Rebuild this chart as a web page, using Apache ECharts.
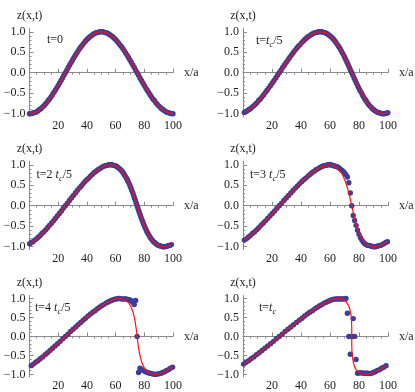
<!DOCTYPE html>
<html><head><meta charset="utf-8">
<script src="https://cdn.jsdelivr.net/npm/echarts@6/dist/echarts.min.js"></script>
<style>html,body{margin:0;padding:0;background:#fff}#c{width:415px;height:392px}</style>
</head><body><div id="c"></div>
<script>
// lattice displacement values z at sites n = 0..100 (shared by every panel, read from t=0 curve)
const latticeZ = [-1,-1,-0.99,-0.98,-0.97,-0.95,-0.93,-0.9,-0.88,-0.84,-0.81,-0.77,-0.73,-0.68,-0.64,-0.59,-0.54,-0.48,-0.43,-0.37,-0.31,-0.25,-0.19,-0.13,-0.06,0,
0.06,0.13,0.19,0.25,0.31,0.37,0.43,0.48,0.54,0.59,0.64,0.68,0.73,0.77,0.81,0.84,0.88,0.9,0.93,0.95,0.97,0.98,0.99,1,1,
1,0.99,0.98,0.97,0.95,0.93,0.9,0.88,0.84,0.81,0.77,0.73,0.68,0.64,0.59,0.54,0.48,0.43,0.37,0.31,0.25,0.19,0.13,0.06,0,
-0.06,-0.13,-0.19,-0.25,-0.31,-0.37,-0.43,-0.48,-0.54,-0.59,-0.64,-0.68,-0.73,-0.77,-0.81,-0.84,-0.88,-0.9,-0.93,-0.95,-0.97,-0.98,-0.99,-1,-1];

// x positions of those values in each panel
const xT0 = [0,1,2,3,4,5,6,7,8,9,10,11,12,13,14,15,16,17,18,19,20,21,22,23,24,25,26,27,28,29,30,31,32,33,34,35,36,37,38,39,40,41,42,43,44,45,46,47,48,49,50,51,52,53,54,55,56,57,58,59,60,61,62,63,64,65,66,67,68,69,70,71,72,73,74,75,76,77,78,79,80,81,82,83,84,85,86,87,88,89,90,91,92,93,94,95,96,97,98,99,100];
const xT1 = [96.8,97.8,98.8,99.9,0.9,2.0,3.0,4.1,5.2,6.3,7.4,8.5,9.7,10.8,12.0,13.1,14.3,15.5,16.6,17.8,19.0,20.2,21.4,22.6,23.8,25.0,
26.2,27.4,28.6,29.8,31.0,32.2,33.4,34.5,35.7,36.9,38.0,39.2,40.3,41.5,42.6,43.7,44.8,45.9,47.0,48.0,49.1,50.1,51.2,52.2,53.2,
54.2,55.2,56.1,57.1,58.0,59.0,59.9,60.8,61.7,62.6,63.5,64.3,65.2,66.0,66.9,67.7,68.5,69.4,70.2,71.0,71.8,72.6,73.4,74.2,75.0,
75.8,76.6,77.4,78.2,79.0,79.8,80.6,81.5,82.3,83.1,84.0,84.8,85.7,86.5,87.4,88.3,89.2,90.1,91.0,92.0,92.9,93.9,94.8,95.8,96.8];
const xT2 = [93.6,94.6,95.7,96.7,97.8,98.9,0.1,1.2,2.4,3.6,4.9,6.1,7.4,8.6,9.9,11.3,12.6,13.9,15.3,16.7,18.0,19.4,20.8,22.2,23.6,25.0,
26.4,27.8,29.2,30.6,32.0,33.3,34.7,36.1,37.4,38.7,40.1,41.4,42.6,43.9,45.2,46.4,47.6,48.8,49.9,51.1,52.2,53.3,54.3,55.4,56.4,
57.4,58.3,59.3,60.2,61.1,61.9,62.8,63.6,64.4,65.2,65.9,66.6,67.4,68.1,68.7,69.4,70.1,70.7,71.3,72.0,72.6,73.2,73.8,74.4,75.0,
75.6,76.2,76.8,77.4,78.0,78.7,79.3,79.9,80.6,81.3,81.9,82.6,83.4,84.1,84.8,85.6,86.4,87.2,88.1,88.9,89.8,90.7,91.7,92.6,93.6];
const xT3 = [90.5,91.5,92.5,93.6,94.8,95.9,97.1,98.4,99.6,0.9,2.3,3.6,5.0,6.5,7.9,9.4,10.9,12.4,13.9,15.5,17.0,18.6,20.2,21.8,23.4,25.0,
26.6,28.2,29.8,31.4,33.0,34.5,36.1,37.6,39.1,40.6,42.1,43.5,45.0,46.4,47.7,49.1,50.4,51.6,52.9,54.1,55.2,56.4,57.5,58.5,59.5,
60.5,61.5,62.4,63.2,64.1,64.9,65.6,66.4,67.1,67.7,68.4,69.0,69.5,70.1,70.6,71.1,71.6,72.1,72.5,73.0,73.4,73.8,74.2,74.6,75.0,
75.4,75.8,76.2,76.6,77.0,77.5,77.9,78.4,78.9,79.4,79.9,80.5,81.0,81.6,82.3,82.9,83.6,84.4,85.1,85.9,86.8,87.6,88.5,89.5,90.5];
const xT4 = [87.3,88.3,89.4,90.5,91.7,92.9,94.2,95.5,96.8,98.2,99.7,1.2,2.7,4.3,5.9,7.5,9.2,10.9,12.6,14.3,16.1,17.8,19.6,21.4,23.2,25.0,
26.8,28.6,30.4,32.2,33.9,35.7,37.4,39.1,40.8,42.5,44.1,45.7,47.3,48.8,50.3,51.8,53.2,54.5,55.8,57.1,58.3,59.5,60.6,61.7,62.7,
63.7,64.6,65.5,66.3,67.1,67.8,68.5,69.2,69.8,70.3,70.8,71.3,71.7,72.1,72.5,72.8,73.1,73.4,73.7,73.9,74.2,74.4,74.6,74.8,75.0,
75.2,75.4,75.6,75.8,76.1,76.3,76.6,76.9,77.2,77.5,77.9,78.3,78.7,79.2,79.7,80.2,80.8,81.5,82.2,82.9,83.7,84.5,85.4,86.3,87.3];
const xT5 = [84.1,85.1,86.2,87.4,88.6,89.9,91.2,92.6,94.1,95.6,97.1,98.7,0.4,2.1,3.9,5.6,7.5,9.3,11.2,13.1,15.1,17.0,19.0,21.0,23.0,25.0,
27.0,29.0,31.0,33.0,34.9,36.9,38.8,40.7,42.5,44.4,46.1,47.9,49.6,51.3,52.9,54.4,55.9,57.4,58.8,60.1,61.4,62.6,63.8,64.9,65.9,
66.9,67.8,68.6,69.4,70.1,70.8,71.4,71.9,72.4,72.9,73.3,73.6,73.9,74.1,74.4,74.5,74.7,74.8,74.9,74.9,75.0,75.0,75.0,75.0,75.0,
75.0,75.0,75.0,75.0,75.1,75.1,75.2,75.3,75.5,75.6,75.9,76.1,76.4,76.7,77.1,77.6,78.1,78.6,79.2,79.9,80.6,81.4,82.2,83.1,84.1];

// simulated lattice points near the front (sites 64..86) where they leave the continuum curve
const frontSites = [64,65,66,67,68,69,70,71,72,73,74,75,76,77,78,79,80,81,82,83,84,85,86];
const frontZ3 = [0.96,0.95,0.93,0.90,0.87,0.84,0.80,0.76,0.70,0.56,0.31,0,-0.24,-0.36,-0.48,-0.60,-0.70,-0.78,-0.84,-0.89,-0.93,-0.95,-0.97];
const frontZ4 = [0.99,0.99,0.99,0.99,0.98,0.97,0.96,0.94,0.90,0.84,0.95,0,-0.95,-0.84,-0.87,-0.89,-0.91,-0.93,-0.95,-0.96,-0.97,-0.98,-0.99];
const frontZ5 = [0.99,0.99,0.99,0.99,0.99,0.99,0.99,1.0,0.61,0,-0.47,0,0.47,0,-0.61,-0.97,-0.96,-0.96,-0.96,-0.97,-0.97,-0.97,-0.97];

const xTickVals = [20,40,60,80,100];
const xMinorVals = [5,10,15,25,30,35,45,50,55,65,70,75,85,90,95];
const yTickVals = [-1,-0.5,0,0.5,1];
const yMinorVals = [-0.9,-0.8,-0.7,-0.6,-0.4,-0.3,-0.2,-0.1,0.1,0.2,0.3,0.4,0.6,0.7,0.8,0.9];

const panelText = ['{r|t=0}','{r|t=}{i|t}{s|c}{r|/5}','{r|t=2 }{i|t}{s|c}{r|/5}','{r|t=3 }{i|t}{s|c}{r|/5}','{r|t=4 }{i|t}{s|c}{r|/5}','{r|t=}{i|t}{s|c}'];

const FONT = '"Liberation Serif","Times New Roman",serif';
const AX = '#8a8a8a';
const TXT = '#1e1e1e';
const YMIN = -1.07, YMAX = 1.08, XMIN = 0, XMAX = 100;

const panels = [
  {xs:xT0, front:null, grid:{left:29.5, top:28.5, width:143.5, height:88}, lab:[47,32]},
  {xs:xT1, front:null, grid:{left:243, top:28.5, width:145, height:88}, lab:[256,33]},
  {xs:xT2, front:null, grid:{left:29.5, top:161.5, width:143.5, height:88}, lab:[36.5,167]},
  {xs:xT3, front:frontZ3, grid:{left:243, top:161.5, width:145, height:88}, lab:[250,167]},
  {xs:xT4, front:frontZ4, grid:{left:29.5, top:295.5, width:143.5, height:88}, lab:[35,300]},
  {xs:xT5, front:frontZ5, grid:{left:243, top:295.5, width:145, height:88}, lab:[259,300]}
];

const rich = {
  r:{fontFamily:FONT, fontSize:12, fontWeight:'normal', color:TXT, lineHeight:16, verticalAlign:'middle'},
  i:{fontFamily:FONT, fontSize:12, fontWeight:'normal', fontStyle:'italic', color:TXT, lineHeight:16, verticalAlign:'middle'},
  s:{fontFamily:FONT, fontSize:8.5, fontWeight:'normal', fontStyle:'italic', color:TXT, lineHeight:9, verticalAlign:'bottom'}
};

const option = {animation:false, backgroundColor:'#fff', grid:[], xAxis:[], yAxis:[], series:[], title:[]};

panels.forEach((p, k) => {
  option.grid.push(Object.assign({containLabel:false}, p.grid));
  const pairs = p.xs.map((x, i) => [x, latticeZ[i]]);
  // line: walk the sites in order starting after the periodic wrap
  let j = 0;
  for (let i = 1; i < pairs.length; i++) { if (pairs[i][0] < pairs[i-1][0] - 50) { j = i; break; } }
  const lineData = pairs.slice(j).concat(pairs.slice(0, j));
  let dots = pairs;
  if (p.front) {
    dots = pairs.filter(d => d[0] < 63.5 || d[0] > 86.5).concat(frontSites.map((x, i) => [x, p.front[i]]));
  }
  const xi = 2*k, yi = 2*k;
  option.xAxis.push({type:'value', gridIndex:k, min:XMIN, max:XMAX,
    axisLine:{show:true, onZero:true, onZeroAxisIndex:yi, lineStyle:{color:AX, width:1}},
    axisTick:{show:true, inside:true, length:4, customValues:xTickVals, lineStyle:{color:AX}},
    axisLabel:{show:true, customValues:xTickVals, margin:3, fontFamily:FONT, fontSize:12, color:TXT},
    splitLine:{show:false}, name:'x/a', nameLocation:'end', nameGap:11,
    nameTextStyle:{fontFamily:FONT, fontSize:12, color:TXT}});
  option.xAxis.push({type:'value', gridIndex:k, min:XMIN, max:XMAX,
    axisLine:{show:false, onZero:true, onZeroAxisIndex:yi+1},
    axisTick:{show:true, inside:true, length:2, customValues:xMinorVals, lineStyle:{color:AX}},
    axisLabel:{show:false}, splitLine:{show:false}});
  option.yAxis.push({type:'value', gridIndex:k, min:YMIN, max:YMAX, position:'left',
    axisLine:{show:true, onZero:false, lineStyle:{color:AX, width:1}},
    axisTick:{show:true, inside:true, length:4, customValues:yTickVals, lineStyle:{color:AX}},
    axisLabel:{show:true, customValues:yTickVals, margin:4, fontFamily:FONT, fontSize:12, color:TXT,
      formatter: v => (v < 0 ? '\u2212' : '') + Math.abs(v).toFixed(1)},
    splitLine:{show:false}, name:'z(x,t)', nameLocation:'end', nameGap:7,
    nameTextStyle:{fontFamily:FONT, fontSize:12, color:TXT}});
  option.yAxis.push({type:'value', gridIndex:k, min:YMIN, max:YMAX, position:'left',
    axisLine:{show:false, onZero:false},
    axisTick:{show:true, inside:true, length:2, customValues:yMinorVals, lineStyle:{color:AX}},
    axisLabel:{show:false}, splitLine:{show:false}});
  option.series.push({type:'scatter', xAxisIndex:xi, yAxisIndex:yi, data:dots, symbol:'circle', symbolSize:5.4,
    itemStyle:{color:'#3d3d99', opacity:1}, clip:false, silent:true, z:2});
  option.series.push({type:'line', xAxisIndex:xi, yAxisIndex:yi, data:lineData, showSymbol:false, symbol:'none',
    lineStyle:{color:'#ff1010', width:1.2}, clip:true, silent:true, z:3});
  option.title.push({text:panelText[k], left:p.lab[0], top:p.lab[1], padding:0, textStyle:{fontWeight:'normal', rich:rich}});
});

const chart = echarts.init(document.getElementById('c'), null, {renderer:'canvas'});
chart.setOption(option);
</script></body></html>
